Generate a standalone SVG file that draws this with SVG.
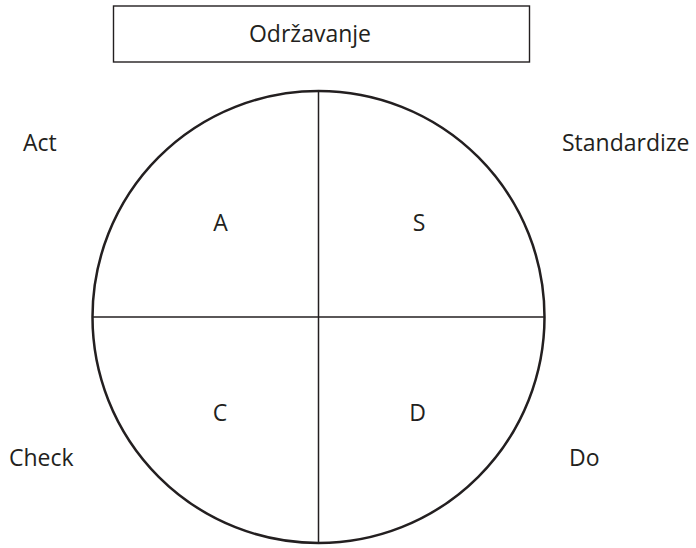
<svg xmlns="http://www.w3.org/2000/svg" width="696" height="548" viewBox="0 0 696 548">
<style>
text{font-family:"Open Sans","Liberation Sans",sans-serif;font-size:23px;fill:#231f20}
.ln{stroke:#231f20;stroke-width:1.5;fill:none}
</style>
<rect width="696" height="548" fill="#fff"/>
<g id="box"><rect x="113.5" y="6" width="416" height="56" fill="#fff" stroke="#231f20" stroke-width="1.4"/><text x="310" y="42" text-anchor="middle">Održavanje</text></g>
<g id="circle"><circle cx="318.5" cy="317" r="226" fill="none" stroke="#231f20" stroke-width="2.5"/></g>
<g id="connectors"><line class="ln" x1="318.5" y1="91" x2="318.5" y2="543"/><line class="ln" x1="92.5" y1="317" x2="544.5" y2="317"/></g>
<g id="qA"><text x="220.5" y="231" text-anchor="middle">A</text></g>
<g id="qS"><text x="419" y="231" text-anchor="middle">S</text></g>
<g id="qC"><text x="220" y="421" text-anchor="middle">C</text></g>
<g id="qD"><text x="417.5" y="421" text-anchor="middle">D</text></g>
<g id="act"><text x="23" y="151">Act</text></g>
<g id="std"><text x="562" y="151">Standardize</text></g>
<g id="check"><text x="9" y="466">Check</text></g>
<g id="do"><text x="569" y="466">Do</text></g>
</svg>
